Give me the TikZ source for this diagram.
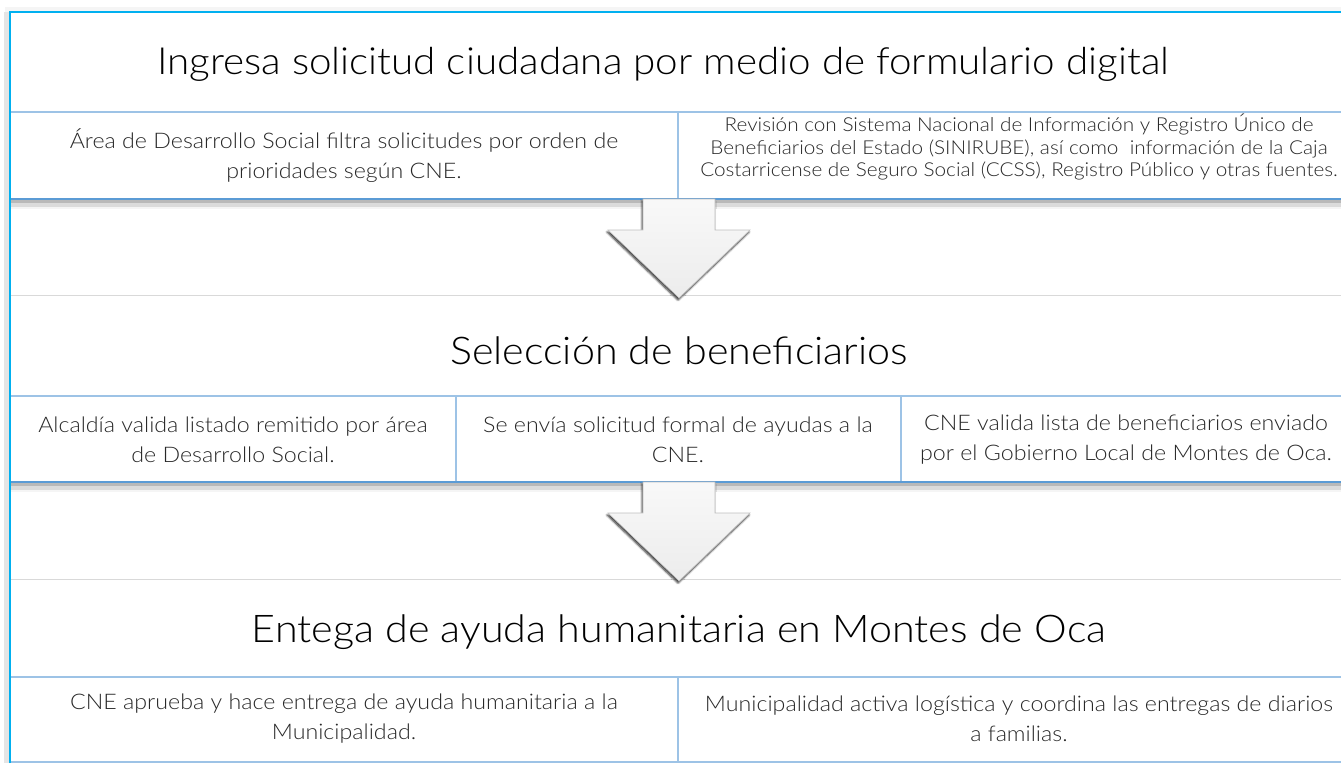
\documentclass[tikz,border=0pt]{standalone}
\usepackage{fontspec}
\IfFontExistsTF{Lato Light}{\setmainfont{Lato Light}[FakeStretch=1.08]}{\setmainfont{Lato}[FakeStretch=1.08]}
\usetikzlibrary{positioning,calc,shadows.blur}
\definecolor{FrameCyan}{RGB}{0,176,240}
\definecolor{RuleBlue}{RGB}{91,155,213}
\definecolor{CellBlue}{RGB}{157,195,230}
\definecolor{TopGray}{RGB}{217,217,217}
\definecolor{TextGray}{RGB}{40,40,40}

\tikzset{
  titletext/.style={font=\fontsize{38.2}{42}\selectfont, text=black},
  celltext/.style={font=\fontsize{21.5}{30}\selectfont, align=center, text=TextGray},
  smalltext/.style={font=\fontsize{19.2}{22.5}\selectfont, align=center, text=TextGray},
  cellline/.style={CellBlue, line width=1.2pt},
  bottomline/.style={RuleBlue, line width=1.4pt},
  flowarrow/.style={top color=gray!5, bottom color=gray!15, draw=gray!50, line width=0.6pt,
    blur shadow={shadow xshift=-1pt, shadow yshift=-2pt, shadow blur steps=6, shadow opacity=85}}
}

\begin{document}
\begin{tikzpicture}[x=1pt, y=-1pt]
  \useasboundingbox (0,0) rectangle (1341,763);
  \clip (0,0) rectangle (1341,763);

  % Outer shadow
  \fill[gray!8] (5,7) rectangle (1360,12);
  \fill[gray!20] (4,12) rectangle (9,763);

  % Block 1
  \fill[white] (10,12) rectangle (1360,199);
  \draw[cellline] (10,112) -- (1360,112);
  \draw[cellline] (678,112) -- (678,199);
  \node[titletext, font=\fontsize{37.4}{42}\selectfont] (t1) at (663,64) {Ingresa solicitud ciudadana por medio de formulario digital};
  \node[celltext] (c11) at (344,156) {Área de Desarrollo Social filtra solicitudes por orden de\\prioridades según CNE.};
  \node[smalltext] (c12) at (1019,147) {Revisión con Sistema Nacional de Información y Registro Único de\\Beneficiarios del Estado (SINIRUBE), así como\ \ información de la Caja\\Costarricense de Seguro Social (CCSS), Registro Público y otras fuentes.};

  % Block 2
  \draw[TopGray, line width=1pt] (10,295) -- (1360,295);
  \draw[cellline] (10,396) -- (1360,396);
  \foreach \x in {456, 901}
    \draw[cellline] (\x,396) -- (\x,482);
  \node[titletext] (t2) at (679,351) {Selección de beneficiarios};
  \node[celltext] (c21) at (233,440) {Alcaldía valida listado remitido por área\\de Desarrollo Social.};
  \node[celltext] (c22) at (678,440) {Se envía solicitud formal de ayudas a la\\CNE.};
  \node[celltext] (c23) at (1126,440) {CNE valida lista de beneficiarios enviado\\por el Gobierno Local de Montes de Oca.};

  % Block 3
  \draw[TopGray, line width=1pt] (10,579) -- (1360,579);
  \draw[cellline] (10,677) -- (1360,677);
  \draw[cellline] (678,677) -- (678,762);
  \draw[cellline] (10,762) -- (1360,762);
  \node[titletext] (t3) at (679,632) {Entega de ayuda humanitaria en Montes de Oca};
  \node[celltext] (c31) at (344,719) {CNE aprueba y hace entrega de ayuda humanitaria a la\\Municipalidad.};
  \node[celltext] (c32) at (1019,719) {Municipalidad activa logística y coordina las entregas de diarios\\a familias.};

  % Bottom rules with shadow
  \foreach \y/\name in {199/b1, 482/b2} {
    \fill[gray!55] (11,\y) rectangle (1360,\y+4);
    \fill[gray!28] (11,\y+4) rectangle (1360,\y+8);
    \fill[gray!8] (11,\y+8) rectangle (1360,\y+10);
    \draw[bottomline] (10,\y) -- (1360,\y);
    \coordinate (\name) at (679,\y);
  }

  % Arrows between blocks
  \foreach \name in {b1, b2}
    \draw[flowarrow] ([xshift=-36pt]\name) -- ++(72,0) -- ++(0,31) -- ++(35,0)
      -- ++(-71,68) -- ++(-71,-68) -- ++(35,0) -- cycle;

  % Frame
  \draw[FrameCyan, line width=1.6pt] (10,763) -- (10,12) -- (1360,12);
\end{tikzpicture}
\end{document}
